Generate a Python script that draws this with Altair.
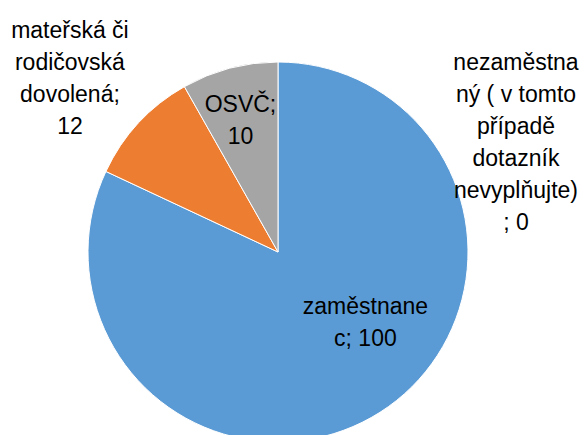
import altair as alt
import pandas as pd

categories = ["nezaměstnaný ( v tomto případě dotazník nevyplňujte)", "zaměstnanec",
              "mateřská či rodičovská dovolená", "OSVČ"]
values = [0, 100, 12, 10]
label_texts = [
    "nezaměstna\nný ( v tomto\npřípadě\ndotazník\nnevyplňujte)\n; 0",
    "zaměstnane\nc; 100",
    "mateřská či\nrodičovská\ndovolená;\n12",
    "OSVČ;\n10",
]
colors = ["#4472C4", "#5B9BD5", "#ED7D31", "#A5A5A5"]

df = pd.DataFrame({
    "cat": categories,
    "value": values,
    "label": label_texts,
    "idx": list(range(len(categories))),
})

CX, CY, R = 270, 244, 190
FONT = "Liberation Sans"
FS = 23
LH = 32

pie = alt.Chart(df).mark_arc(outerRadius=R, stroke="white", strokeWidth=1).encode(
    theta=alt.Theta("value:Q", stack=True),
    order=alt.Order("idx:Q"),
    x=alt.value(CX), y=alt.value(CY),
    color=alt.Color("cat:N", scale=alt.Scale(domain=categories, range=colors), legend=None),
)

lab_base = alt.Chart(df).transform_stack(
    stack="value", groupby=[], as_=["v0", "v1"], sort=[alt.SortField("idx")]
).transform_calculate(mid="(datum.v0 + datum.v1) / 2")

offsets = {
    categories[0]: (238, 11),
    categories[1]: (23, -30),
    categories[2]: (-120, -91),
    categories[3]: (-7, -15),
}

layers = [pie]
for c, txt in zip(categories, label_texts):
    dx, dy = offsets[c]
    nlines = txt.count("\n") + 1
    dy = dy - (nlines - 1) * LH / 2
    layers.append(
        lab_base.mark_text(
            font=FONT, fontSize=FS, lineBreak="\n", lineHeight=LH,
            align="center", baseline="middle", color="#000000", dx=dx, dy=dy,
        ).encode(
            theta=alt.Theta("mid:Q", stack=None),
            x=alt.value(CX), y=alt.value(CY),
            radius=alt.value(120),
            text="label:N",
        ).transform_filter(alt.datum.cat == c)
    )

chart = alt.layer(*layers).properties(
    width=572, height=427, padding=0, autosize=alt.AutoSizeParams(type="none")
).configure_view(stroke=None)

chart.save("out.html", embed_options={"renderer": "svg", "actions": False})
